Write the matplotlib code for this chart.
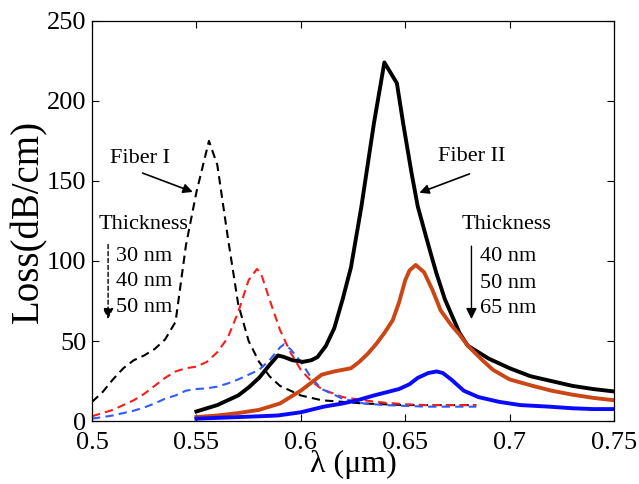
import numpy as np
import matplotlib
matplotlib.use('Agg')
import matplotlib.pyplot as plt

plt.rcParams['font.family'] = ['Liberation Serif', 'DejaVu Serif']

# Fiber I (dashed), thickness 30 / 40 / 50 nm
x_f1_30 = [0.500, 0.505, 0.510, 0.515, 0.520, 0.525, 0.530, 0.535, 0.540, 0.545, 0.550, 0.556,
           0.560, 0.565, 0.570, 0.575, 0.580, 0.585, 0.590, 0.600, 0.610, 0.620, 0.630, 0.640,
           0.650, 0.660, 0.670, 0.684]
y_f1_30 = [12, 18, 26, 33, 38, 41, 45, 51, 62, 110, 143, 175,
           160, 115, 73, 50, 37, 28, 22, 16, 13, 12, 11, 10.5,
           10, 10, 10, 10]

x_f1_40 = [0.500, 0.505, 0.510, 0.515, 0.520, 0.525, 0.530, 0.535, 0.540, 0.545, 0.550, 0.555,
           0.560, 0.565, 0.570, 0.575, 0.579, 0.581, 0.585, 0.590, 0.595, 0.600, 0.605, 0.610,
           0.620, 0.630, 0.640, 0.650, 0.660, 0.670, 0.684]
y_f1_40 = [3, 5, 7, 10, 13, 17, 22, 27, 31, 33, 34, 37,
           43, 52, 68, 88, 95, 92, 76, 57, 43, 32, 25, 20,
           15, 13, 11.5, 10.5, 10, 10, 10]

x_f1_50 = [0.500, 0.505, 0.510, 0.515, 0.520, 0.525, 0.530, 0.535, 0.540, 0.545, 0.550, 0.555,
           0.560, 0.565, 0.570, 0.575, 0.580, 0.585, 0.590, 0.592, 0.595, 0.600, 0.605, 0.610,
           0.620, 0.630, 0.640, 0.650, 0.660, 0.670, 0.684]
y_f1_50 = [1.5, 2.5, 3.5, 5, 6.5, 8.5, 11, 14, 16, 19, 20, 20.5,
           21.5, 23.5, 26, 29, 32, 38, 46, 48, 45, 37, 27, 20,
           14, 11, 10, 9.5, 9, 9, 9]

# Fiber II (solid), thickness 40 / 50 / 65 nm
x_f2_40 = [0.550, 0.555, 0.560, 0.565, 0.570, 0.575, 0.580, 0.585, 0.589, 0.592, 0.596, 0.601,
           0.605, 0.608, 0.612, 0.616, 0.620, 0.624, 0.629, 0.635, 0.640, 0.646, 0.649, 0.653,
           0.656, 0.660, 0.663, 0.665, 0.669, 0.676, 0.680, 0.690, 0.700, 0.710, 0.720, 0.730,
           0.740, 0.750]
y_f2_40 = [6, 8, 10, 13, 16, 21, 27, 35, 41, 40, 38, 37,
           38, 40, 47, 58, 76, 96, 134, 186, 224, 211, 186, 155,
           134, 115, 101, 92, 76, 55, 47, 39, 33, 28, 25, 22,
           20, 18.5]

x_f2_50 = [0.550, 0.560, 0.570, 0.580, 0.590, 0.595, 0.600, 0.605, 0.610, 0.616, 0.620, 0.624,
           0.628, 0.632, 0.636, 0.640, 0.644, 0.647, 0.650, 0.652, 0.655, 0.659, 0.663, 0.667,
           0.672, 0.676, 0.680, 0.687, 0.692, 0.700, 0.711, 0.720, 0.730, 0.740, 0.750]
y_f2_50 = [2.5, 3.5, 5, 7, 11, 15, 19, 24, 29, 31, 32, 33,
           37, 42, 48, 55, 63, 74, 88, 94, 97.5, 93, 82, 69,
           60, 54, 47, 38, 32, 26, 22, 19, 16.5, 14.5, 13]

x_f2_65 = [0.550, 0.560, 0.570, 0.580, 0.589, 0.600, 0.611, 0.620, 0.627, 0.635, 0.647, 0.652,
           0.656, 0.661, 0.665, 0.668, 0.672, 0.678, 0.685, 0.695, 0.705, 0.719, 0.730, 0.740,
           0.750]
y_f2_65 = [1.5, 2, 2.5, 3, 3.5, 5.5, 9, 11, 13, 16, 20, 23,
           27, 30, 31, 30, 26, 19, 15, 12, 10, 9, 8, 7.5,
           7.5]

xticks = [0.5, 0.55, 0.6, 0.65, 0.7, 0.75]
xtick_labels = ['0.5', '0.55', '0.6', '0.65', '0.7', '0.75']
yticks = [0, 50, 100, 150, 200, 250]

c_black = 'black'
c_red = '#ff1a1a'
c_blue_d = '#2f5bff'
c_orange = '#cc4514'
c_blue = '#0a0aff'

fig = plt.figure(figsize=(6.39, 4.84), dpi=100)
ax = fig.add_axes([0.144, 0.130, 0.817, 0.827])

dash = (0, (4, 2.5))
ax.plot(x_f1_30, y_f1_30, color=c_black, lw=1.5, linestyle=dash)
ax.plot(x_f1_40, y_f1_40, color=c_red, lw=1.5, linestyle=dash)
ax.plot(x_f1_50, y_f1_50, color=c_blue_d, lw=1.5, linestyle=dash)
ax.plot(x_f2_40, y_f2_40, color=c_black, lw=2.8)
ax.plot(x_f2_50, y_f2_50, color=c_orange, lw=2.8)
ax.plot(x_f2_65, y_f2_65, color=c_blue, lw=2.8)

ax.set_xlim(0.5, 0.75)
ax.set_ylim(0, 250)
ax.set_xticks(xticks)
ax.set_xticklabels(xtick_labels)
ax.set_yticks(yticks)
ax.tick_params(direction='in', top=True, right=True, length=5, width=0.8,
               labelsize=19)
ax.tick_params(axis='x', pad=8)
ax.tick_params(axis='y', pad=4)
for s in ax.spines.values():
    s.set_linewidth(0.9)

ax.set_xlabel('λ (μm)', fontsize=23, labelpad=-3)
ax.set_ylabel('Loss(dB/cm)', fontsize=28, labelpad=0)

fs = 16
# Fiber I annotation
ax.text(0.523, 164, 'Fiber I', fontsize=fs, ha='center', va='center')
ax.annotate('', xy=(0.5495, 142.5), xytext=(0.523, 155.5),
            arrowprops=dict(arrowstyle='-|>', color='black', lw=1.2, mutation_scale=14))
ax.text(0.5245, 123, 'Thickness', fontsize=fs, ha='center', va='center')
ax.annotate('', xy=(0.5077, 62), xytext=(0.5077, 112),
            arrowprops=dict(arrowstyle='-|>', color='black', lw=1.0, ls=(0, (3, 2)),
                            mutation_scale=16))
for t, yy in zip(['30 nm', '40 nm', '50 nm'], [103, 87, 71]):
    ax.text(0.5115, yy, t, fontsize=fs, ha='left', va='center')

# Fiber II annotation
ax.text(0.6817, 165, 'Fiber II', fontsize=fs, ha='center', va='center')
ax.annotate('', xy=(0.6555, 142), xytext=(0.682, 155),
            arrowprops=dict(arrowstyle='-|>', color='black', lw=1.2, mutation_scale=14))
ax.text(0.6986, 122.5, 'Thickness', fontsize=fs, ha='center', va='center')
ax.annotate('', xy=(0.6817, 62), xytext=(0.6817, 111),
            arrowprops=dict(arrowstyle='-|>', color='black', lw=1.0, mutation_scale=16))
for t, yy in zip(['40 nm', '50 nm', '65 nm'], [102.5, 86, 70.5]):
    ax.text(0.6856, yy, t, fontsize=fs, ha='left', va='center')

fig.savefig('out.png', dpi=100)
